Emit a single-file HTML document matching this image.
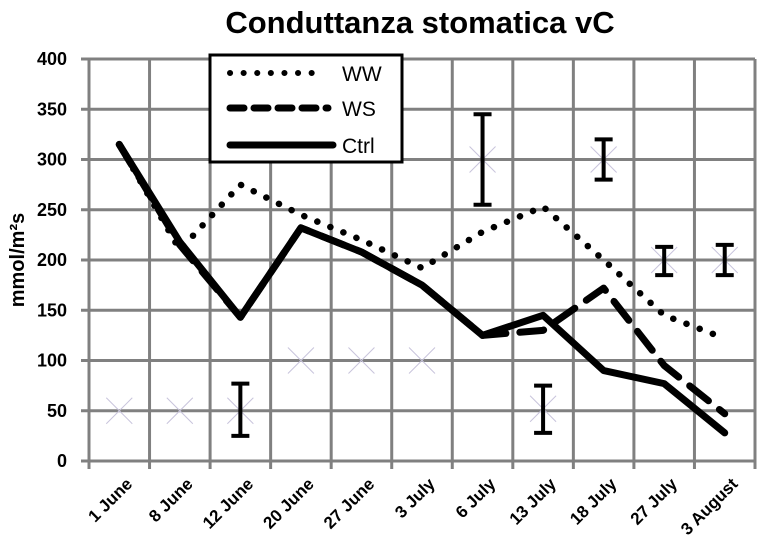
<!DOCTYPE html>
<html><head><meta charset="utf-8"><style>
body{margin:0;background:#fff;}
svg{display:block;font-family:"Liberation Sans",sans-serif;}
</style></head><body>
<svg id="chart" width="757" height="553" viewBox="0 0 757 553">
<text x="420" y="33" text-anchor="middle" font-size="31" font-weight="bold">Conduttanza stomatica vC</text>
<text transform="translate(24,260) rotate(-90)" text-anchor="middle" font-size="20" font-weight="bold">mmol/m²s</text>
<g id="grid"></g><g id="marks"></g><g id="labels"></g>
<g>
<rect x="210" y="55" width="192" height="107" fill="#fff" stroke="#000" stroke-width="3"/>
<line x1="230" y1="73" x2="325" y2="73" stroke="#000" stroke-width="6" stroke-dasharray="0.1 13.5" stroke-linecap="round"/>
<text x="342" y="81" font-size="21">WW</text>
<line x1="230" y1="108" x2="328" y2="108" stroke="#000" stroke-width="7" stroke-dasharray="14 10" stroke-linecap="round"/>
<text x="342" y="116" font-size="21">WS</text>
<line x1="230" y1="145" x2="333" y2="145" stroke="#000" stroke-width="7" stroke-linecap="round"/>
<text x="342" y="153" font-size="21">Ctrl</text>
</g>
</svg>
<script>
const categories=["1 June","8 June","12 June","20 June","27 June","3 July","6 July","13 July","18 July","27 July","3 August"];
const ww=[315,210,275,245,220,192,228,253,200,145,122];
const ws=[315,215,143,232,208,175,125,130,172,95,47];
const ctrl=[315,218,143,232,208,175,125,145,90,77,28];
const markerVals=[50,50,50,100,100,100,300,52,300,200,200];
const errLow=[null,null,25,null,null,null,255,28,280,185,185];
const errHigh=[null,null,77,null,null,null,345,75,320,213,215];
const yTicks=[0,50,100,150,200,250,300,350,400];
const NS="http://www.w3.org/2000/svg";
const L=89,R=755,T=59,B=461;
const cw=(R-L)/categories.length;
const xS=i=>L+cw*(i+0.5);
const yS=v=>B-(v/400)*(B-T);
function mk(tag,attrs,parent){const e=document.createElementNS(NS,tag);for(const k in attrs)e.setAttribute(k,attrs[k]);parent.appendChild(e);return e;}
const grid=document.getElementById('grid'),marks=document.getElementById('marks'),labels=document.getElementById('labels');
yTicks.forEach(v=>{
 const l=mk('line',{x1:L-8,x2:R,y1:yS(v),y2:yS(v),stroke:'#808080','stroke-width':3},grid);
 
 
 const t=mk('text',{x:67,y:yS(v)+6,'text-anchor':'end','font-size':18,'font-weight':'bold'},labels);
 t.textContent=v;
 
 
});
for(let i=0;i<=categories.length;i++){
 const x=L+cw*i;
 const l=mk('line',{x1:x,x2:x,y1:T,y2:B+8,stroke:'#808080','stroke-width':3},grid);
 
 
}
categories.forEach((c,i)=>{
 const x=xS(i)+14,y=B+24;
 const t=mk('text',{x:x,y:y,'text-anchor':'end','font-size':17,'font-weight':'bold',transform:`rotate(-45 ${x} ${y})`},labels);
 t.textContent=c;
 
 
});
markerVals.forEach((v,i)=>{
 const x=xS(i),y=yS(v),s=13;
 const p=mk('path',{d:`M${x-s} ${y-s}L${x+s} ${y+s}M${x-s} ${y+s}L${x+s} ${y-s}`,stroke:'#c8c4dc','stroke-width':1,fill:'none'},marks);
 
 
 if(errLow[i]!=null){
  const y1=yS(errLow[i]),y2=yS(errHigh[i]);
  const e=mk('path',{d:`M${x} ${y1}L${x} ${y2}M${x-9} ${y1}L${x+9} ${y1}M${x-9} ${y2}L${x+9} ${y2}`,stroke:'#000','stroke-width':4,fill:'none'},marks);
  
  
 }
});
function line(arr,dash,w,name){
 const d=arr.map((v,i)=>(i?'L':'M')+xS(i)+' '+yS(v)).join('');
 const p=mk('path',{d:d,fill:'none',stroke:'#000','stroke-width':w,'stroke-linecap':'round','stroke-linejoin':'round'},marks);
 if(dash)p.setAttribute('stroke-dasharray',dash);
 
 
}
line(ww,'0.1 14',6.5,'series-ww');
line(ws,'24 14',7,'series-ws');
line(ctrl,null,7,'series-ctrl');
</script>
</body></html>
